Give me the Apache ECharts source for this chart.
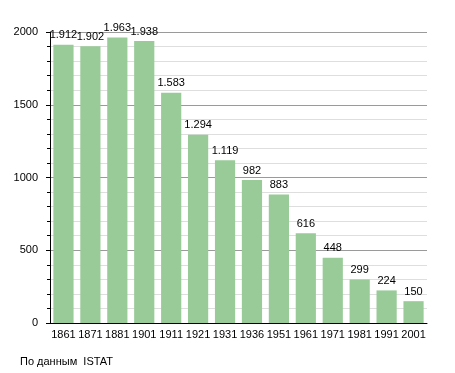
<!DOCTYPE html>
<html><head><meta charset="utf-8">
<script src="https://cdn.jsdelivr.net/npm/echarts@6/dist/echarts.min.js"></script>
<style>html,body{margin:0;padding:0;background:#fff}#c{width:455px;height:373px}</style>
</head><body><div id="c"></div>
<script>
const years = ['1861','1871','1881','1901','1911','1921','1931','1936','1951','1961','1971','1981','1991','2001'];
const population = [1912,1902,1963,1938,1583,1294,1119,982,883,616,448,299,224,150];
const yTicks = [0,500,1000,1500,2000];
const sourceNote = 'По данным  ISTAT';

function fmt(v){ return v >= 1000 ? String(v).replace(/\B(?=(\d{3})+(?!\d))/g,'.') : String(v); }

const chart = echarts.init(document.getElementById('c'), null, {renderer:'canvas'});
chart.setOption({
  animation:false,
  backgroundColor:'#fff',
  textStyle:{fontFamily:'Liberation Sans, Arial, sans-serif'},
  grid:{left:50,right:28,top:32,bottom:50},
  graphic:[{type:'text',left:20,top:356,style:{text:sourceNote,fontSize:11,fill:'#000',fontFamily:'Liberation Sans, Arial, sans-serif'}}],
  xAxis:{type:'category',data:years,
    axisLine:{lineStyle:{color:'#000',width:1}},
    axisTick:{show:false},
    axisLabel:{color:'#000',fontSize:11,margin:6,interval:0}},
  yAxis:{type:'value',min:yTicks[0],max:yTicks[yTicks.length-1],interval:500,
    axisLine:{show:true,lineStyle:{color:'#000',width:1}},
    axisTick:{show:true,inside:false,length:4,lineStyle:{color:'#000'}},
    minorTick:{show:true,splitNumber:5,length:3,lineStyle:{color:'#000'}},
    axisLabel:{color:'#000',fontSize:11,margin:12,formatter:v=>String(v)},
    splitLine:{show:true,lineStyle:{color:'#9a9a9a',width:1}},
    minorSplitLine:{show:true,lineStyle:{color:'#dedede',width:1}}},
  series:[{type:'bar',data:population,barCategoryGap:'25%',
    itemStyle:{color:'#98cb98'},
    label:{show:true,position:'top',color:'#000',fontSize:11,distance:4,formatter:p=>fmt(p.value)}}]
});
</script></body></html>
